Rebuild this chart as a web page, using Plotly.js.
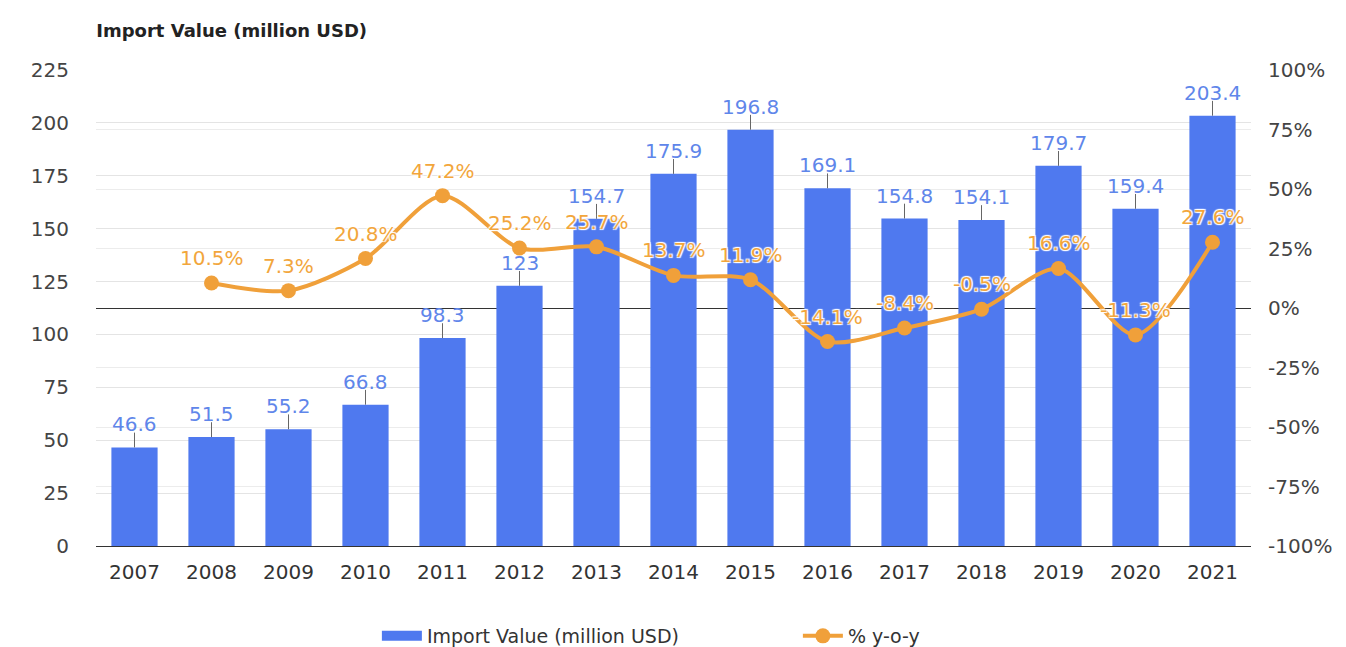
<!DOCTYPE html>
<html>
<head>
<meta charset="utf-8">
<script src="https://cdn.plot.ly/plotly-3.0.1.min.js"></script>
<style>html,body{margin:0;padding:0;background:#fff;}#chart{width:1346px;height:647px;}</style>
</head>
<body>
<div id="chart"></div>
<script>
const years = ['2007','2008','2009','2010','2011','2012','2013','2014','2015','2016','2017','2018','2019','2020','2021'];
const importValue = [46.6, 51.5, 55.2, 66.8, 98.3, 123, 154.7, 175.9, 196.8, 169.1, 154.8, 154.1, 179.7, 159.4, 203.4];
const yoyYears = ['2008','2009','2010','2011','2012','2013','2014','2015','2016','2017','2018','2019','2020','2021'];
const yoy = [10.5, 7.3, 20.8, 47.2, 25.2, 25.7, 13.7, 11.9, -14.1, -8.4, -0.5, 16.6, -11.3, 27.6];
const leftTicks = [0, 25, 50, 75, 100, 125, 150, 175, 200, 225];
const rightTicks = [-100, -75, -50, -25, 0, 25, 50, 75, 100];

const barColor = '#4f79ef';
const lineColor = '#f0a03a';
const font = 'DejaVu Sans, Liberation Sans, Arial, sans-serif';

const bars = {
  type: 'bar', name: 'Import Value (million USD)', x: years, y: importValue,
  marker: {color: barColor}, width: 0.6, showlegend: false,
  error_y: {type: 'constant', value: 7, symmetric: false, valueminus: 0, width: 0, thickness: 1, color: '#666'},
  hoverinfo: 'x+y'
};
const barLegend = {
  type: 'scatter', mode: 'lines', name: 'Import Value (million USD)', x: [null], y: [null],
  line: {color: barColor, width: 18}, hoverinfo: 'skip'
};
const line = {
  type: 'scatter', mode: 'lines+markers', name: '% y-o-y', x: yoyYears, y: yoy, yaxis: 'y2',
  line: {color: lineColor, width: 4, shape: 'spline', smoothing: 0.8},
  marker: {color: lineColor, size: 15}
};

const annotations = [];
years.forEach((yr, i) => {
  annotations.push({x: years.indexOf(yr), y: importValue[i], xref: 'x', yref: 'y', text: String(importValue[i]),
    showarrow: false, yshift: 23, font: {family: font, size: 20, color: '#5f86ea'}});
});
yoyYears.forEach((yr, i) => {
  annotations.push({x: years.indexOf(yr), y: yoy[i], xref: 'x', yref: 'y2', text: yoy[i].toFixed(1) + '%',
    showarrow: false, yshift: 25, font: {family: font, size: 20, color: '#f2a63c',
    shadow: '1px 1px 1px #fff, -1px -1px 1px #fff, 1px -1px 1px #fff, -1px 1px 1px #fff'}});
});

const layout = {
  width: 1346, height: 647,
  margin: {l: 96, r: 95, t: 70, b: 101, autoexpand: false},
  paper_bgcolor: '#fff', plot_bgcolor: '#fff',
  font: {family: font, size: 20, color: '#444'},
  title: {text: '<b>Import Value (million USD)</b>', x: 0.0715, xref: 'container', xanchor: 'left', y: 0.953, yref: 'container', yanchor: 'middle',
    font: {family: font, size: 18, color: '#222'}},
  xaxis: {type: 'category', range: [-0.5, years.length - 0.5], showgrid: false, showline: true, linecolor: '#333', linewidth: 1,
    ticks: '', ticklabelstandoff: 8, tickfont: {family: font, size: 20, color: '#333'}},
  yaxis: {range: [0, 225], tickvals: leftTicks, showgrid: true, gridcolor: '#e4e4e4', zeroline: false,
    ticklabelstandoff: 26, tickfont: {family: font, size: 20, color: '#444'}},
  yaxis2: {range: [-100, 100], tickvals: rightTicks, ticktext: rightTicks.map(v => v + '%'),
    overlaying: 'y', side: 'right', showgrid: true, gridcolor: '#ececec',
    zeroline: true, zerolinecolor: '#333', zerolinewidth: 1,
    ticklabelstandoff: 16, tickfont: {family: font, size: 20, color: '#444'}},
  showlegend: true,
  legend: {orientation: 'h', x: 0.28, xref: 'container', xanchor: 'left', y: 0.017, yref: 'container', yanchor: 'middle',
    font: {family: font, size: 19, color: '#333'}, itemwidth: 40, entrywidth: 366, entrywidthmode: 'pixels'},
  annotations: annotations
};

Plotly.newPlot('chart', [bars, barLegend, line], layout, {displayModeBar: false});
</script>
</body>
</html>
